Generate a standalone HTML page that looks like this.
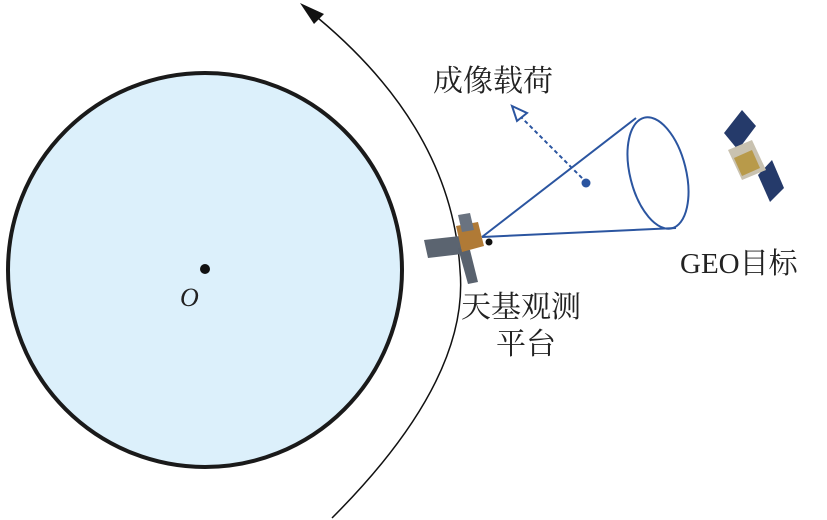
<!DOCTYPE html>
<html><head><meta charset="utf-8"><style>
html,body{margin:0;padding:0;background:#fff;}
svg{display:block}
text{font-family:"Liberation Serif","Noto Serif CJK SC",serif;fill:#222}
</style></head><body>
<svg width="827" height="520" viewBox="0 0 827 520" xmlns="http://www.w3.org/2000/svg">
<circle cx="205" cy="270" r="197" fill="#dcf0fb" stroke="#1a1a1a" stroke-width="4"/>
<circle cx="205" cy="269" r="5" fill="#111"/>
<text x="180" y="306" font-size="26" font-style="italic">O</text>
<path d="M332 518 Q470 380 460 270 Q452 130 318 18" fill="none" stroke="#111" stroke-width="1.5"/>
<polygon points="300,3 324,14 314,24" fill="#111"/>
<g fill="none" stroke="#2b55a0" stroke-width="2">
<line x1="482" y1="237" x2="636" y2="118"/>
<line x1="482" y1="237" x2="676" y2="228"/>
<ellipse cx="658" cy="173" rx="28" ry="57" transform="rotate(-14 658 173)"/>
<line x1="587" y1="183" x2="521" y2="117" stroke-dasharray="4,3"/>
<polygon points="512,106 527,113 517,121" fill="#fff"/>
</g>
<circle cx="586" cy="183" r="4.5" fill="#2b55a0"/>
<g>
<polygon points="424,240 460,236 462,254 428,258" fill="#5b6470"/>
<polygon points="458,248 470,250 478,282 468,284" fill="#59626e"/>
<polygon points="456,226 478,222 484,246 462,252" fill="#b07a36"/>
<polygon points="458,215 470,213 474,230 462,232" fill="#6a7380"/>
<circle cx="489" cy="242" r="3.5" fill="#111"/>
</g>
<g>
<polygon points="724,133 742,110 756,126 738,150" fill="#253a6a"/>
<polygon points="758,175 772,160 784,188 770,202" fill="#253a6a"/>
<polygon points="728,150 752,140 766,170 742,180" fill="#c9c2b0"/>
<polygon points="734,158 752,150 760,168 742,176" fill="#b89a4a"/>
</g>
<text x="433" y="91" font-size="30">成像载荷</text>
<text x="680" y="273" font-size="29">GEO目标</text>
<text x="461" y="317" font-size="30">天基观测</text>
<text x="496" y="354" font-size="30">平台</text>
</svg>
</body></html>
